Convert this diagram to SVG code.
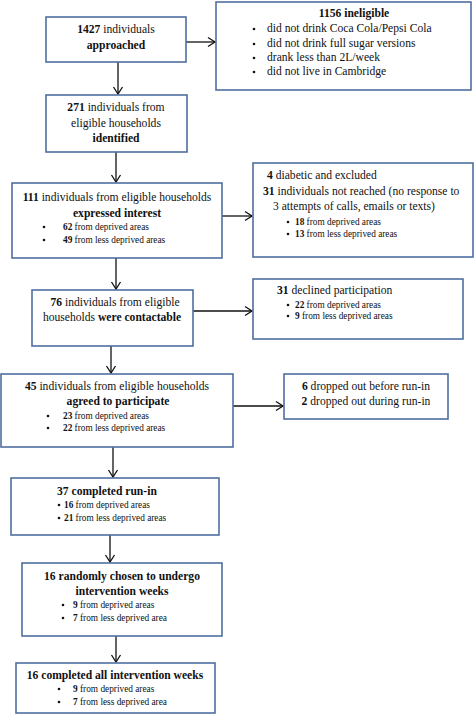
<svg xmlns="http://www.w3.org/2000/svg" width="474" height="715" viewBox="0 0 474 715">
<defs>
<style>
.box{fill:#fff;stroke:#4f6f9f;stroke-width:1.6}
.t{font-family:"Liberation Serif","Times New Roman",serif;font-size:11.6px;fill:#111}
.s{font-family:"Liberation Serif","Times New Roman",serif;font-size:9.3px;fill:#111}
.b{font-weight:bold}
.c{text-anchor:middle}
.dot{fill:#111}
.ln{stroke:#111;stroke-width:1.3;fill:none}
</style>
<marker id="ah" markerUnits="userSpaceOnUse" markerWidth="12" markerHeight="12" refX="9" refY="6" orient="auto">
<path d="M2,1.5 L9,6 L2,10.5" fill="none" stroke="#111" stroke-width="1.3"/>
</marker>
</defs>
<rect width="474" height="715" fill="#fff"/>
<g id="connectors">
<line class="ln" x1="186" y1="42" x2="215" y2="42" marker-end="url(#ah)"/>
<line class="ln" x1="118" y1="62" x2="118" y2="94" marker-end="url(#ah)"/>
<line class="ln" x1="116" y1="152" x2="116" y2="182" marker-end="url(#ah)"/>
<line class="ln" x1="222" y1="216" x2="252" y2="216" marker-end="url(#ah)"/>
<line class="ln" x1="116" y1="258" x2="116" y2="289" marker-end="url(#ah)"/>
<line class="ln" x1="193" y1="311" x2="252" y2="311" marker-end="url(#ah)"/>
<line class="ln" x1="111" y1="346" x2="111" y2="373" marker-end="url(#ah)"/>
<line class="ln" x1="233" y1="406" x2="283" y2="406" marker-end="url(#ah)"/>
<line class="ln" x1="113" y1="447" x2="113" y2="477" marker-end="url(#ah)"/>
<line class="ln" x1="110" y1="535" x2="110" y2="562" marker-end="url(#ah)"/>
<line class="ln" x1="116" y1="636" x2="116" y2="662" marker-end="url(#ah)"/>
</g>
<g id="approached">
<rect class="box" x="46" y="17" width="140" height="45"/>
<text class="t c" x="116" y="33"><tspan class="b">1427</tspan> individuals</text>
<text class="t c b" x="116" y="49">approached</text>
</g>
<g id="ineligible">
<rect class="box" x="216" y="2" width="255" height="88"/>
<text class="t c b" x="354" y="17">1156 ineligible</text>
<circle class="dot" cx="254" cy="29" r="1.3"/>
<text class="t" x="267" y="32">did not drink Coca Cola/Pepsi Cola</text>
<circle class="dot" cx="254" cy="44" r="1.3"/>
<text class="t" x="267" y="47">did not drink full sugar versions</text>
<circle class="dot" cx="254" cy="58" r="1.3"/>
<text class="t" x="267" y="61">drank less than 2L/week</text>
<circle class="dot" cx="254" cy="72" r="1.3"/>
<text class="t" x="267" y="75">did not live in Cambridge</text>
</g>
<g id="identified">
<rect class="box" x="46" y="95" width="141" height="57"/>
<text class="t c" x="116" y="111"><tspan class="b">271</tspan> individuals from</text>
<text class="t c" x="116" y="127">eligible households</text>
<text class="t c b" x="116" y="142">identified</text>
</g>
<g id="interest">
<rect class="box" x="12" y="183" width="210" height="75"/>
<text class="t c" x="117" y="201"><tspan class="b">111</tspan> individuals from eligible households</text>
<text class="t c b" x="117" y="217">expressed interest</text>
<circle class="dot" cx="44" cy="227" r="1.3"/>
<text class="s" x="63" y="230"><tspan class="b">62</tspan> from deprived areas</text>
<circle class="dot" cx="44" cy="240" r="1.3"/>
<text class="s" x="63" y="243"><tspan class="b">49</tspan> from less deprived areas</text>
</g>
<g id="excluded">
<rect class="box" x="253" y="163" width="220" height="94"/>
<text class="t" x="267" y="179"><tspan class="b">4</tspan> diabetic and excluded</text>
<text class="t" x="263" y="195"><tspan class="b">31</tspan> individuals not reached (no response to</text>
<text class="t" x="273" y="210">3 attempts of calls, emails or texts)</text>
<circle class="dot" cx="288" cy="222" r="1.3"/>
<text class="s" x="295" y="225"><tspan class="b">18</tspan> from deprived areas</text>
<circle class="dot" cx="288" cy="234" r="1.3"/>
<text class="s" x="295" y="237"><tspan class="b">13</tspan> from less deprived areas</text>
</g>
<g id="contactable">
<rect class="box" x="32" y="290" width="161" height="56"/>
<text class="t c" x="115" y="306"><tspan class="b">76</tspan> individuals from eligible</text>
<text class="t c" x="112" y="321">households <tspan class="b">were contactable</tspan></text>
</g>
<g id="declined">
<rect class="box" x="253" y="279" width="210" height="60"/>
<text class="t" x="277" y="294"><tspan class="b">31</tspan> declined participation</text>
<circle class="dot" cx="288" cy="305" r="1.3"/>
<text class="s" x="295" y="308"><tspan class="b">22</tspan> from deprived areas</text>
<circle class="dot" cx="288" cy="316" r="1.3"/>
<text class="s" x="295" y="319"><tspan class="b">9</tspan> from less deprived areas</text>
</g>
<g id="agreed">
<rect class="box" x="1" y="374" width="232" height="73"/>
<text class="t c" x="117" y="390"><tspan class="b">45</tspan> individuals from eligible households</text>
<text class="t c b" x="118" y="405">agreed to participate</text>
<circle class="dot" cx="48" cy="416" r="1.3"/>
<text class="s" x="63" y="419"><tspan class="b">23</tspan> from deprived areas</text>
<circle class="dot" cx="48" cy="428" r="1.3"/>
<text class="s" x="63" y="431"><tspan class="b">22</tspan> from less deprived areas</text>
</g>
<g id="dropped">
<rect class="box" x="284" y="374" width="164" height="45"/>
<text class="t c" x="366" y="390"><tspan class="b">6</tspan> dropped out before run-in</text>
<text class="t c" x="366" y="405"><tspan class="b">2</tspan> dropped out during run-in</text>
</g>
<g id="runin">
<rect class="box" x="11" y="478" width="208" height="57"/>
<text class="t b" x="57" y="495">37 completed run-in</text>
<circle class="dot" cx="59" cy="505" r="1.3"/>
<text class="s" x="64" y="508"><tspan class="b">16</tspan> from deprived areas</text>
<circle class="dot" cx="59" cy="518" r="1.3"/>
<text class="s" x="64" y="521"><tspan class="b">21</tspan> from less deprived areas</text>
</g>
<g id="randomised">
<rect class="box" x="22" y="563" width="200" height="73"/>
<text class="t c b" x="122" y="580">16 randomly chosen to undergo</text>
<text class="t c b" x="122" y="595">intervention weeks</text>
<circle class="dot" cx="63" cy="605" r="1.3"/>
<text class="s" x="73" y="608"><tspan class="b">9</tspan> from deprived areas</text>
<circle class="dot" cx="63" cy="618" r="1.3"/>
<text class="s" x="73" y="621"><tspan class="b">7</tspan> from less deprived area</text>
</g>
<g id="completed">
<rect class="box" x="16" y="663" width="199" height="50"/>
<text class="t c b" x="115" y="679">16 completed all intervention weeks</text>
<circle class="dot" cx="59" cy="689" r="1.3"/>
<text class="s" x="73" y="692"><tspan class="b">9</tspan> from deprived areas</text>
<circle class="dot" cx="59" cy="702" r="1.3"/>
<text class="s" x="73" y="705"><tspan class="b">7</tspan> from less deprived area</text>
</g>
</svg>
